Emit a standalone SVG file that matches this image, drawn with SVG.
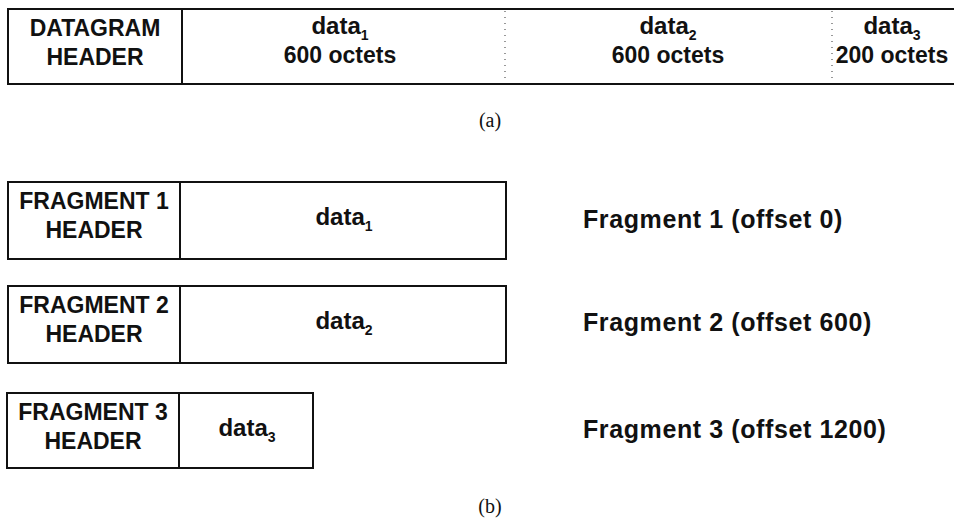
<svg xmlns="http://www.w3.org/2000/svg" width="954" height="518" viewBox="0 0 954 518">
  <style>
    .box { fill: #fff; stroke: #111; stroke-width: 2; }
    .rule { stroke: #111; stroke-width: 2; fill: none; }
    .dots { stroke: #555; stroke-width: 1.2; stroke-dasharray: 1 5; fill: none; }
    .t { font-family: "Liberation Sans", Arial, Helvetica, sans-serif; font-weight: bold; font-size: 23px; fill: #111; text-anchor: middle; }
    .d { font-size: 24px; }
    .lbl { font-family: "Liberation Sans", Arial, Helvetica, sans-serif; font-weight: bold; font-size: 25px; letter-spacing: 0.6px; fill: #111; }
    .sub { font-size: 14px; }
    .cap { font-family: "Liberation Serif", "Times New Roman", serif; font-size: 20px; fill: #111; text-anchor: middle; }
  </style>

  <!-- (a) the original datagram -->
  <g id="datagram">
    <path class="rule" d="M956 9 H8 V84 H956"/>
    <line class="rule" x1="182" y1="9" x2="182" y2="84"/>
    <line class="dots" x1="505" y1="11" x2="505" y2="83"/>
    <line class="dots" x1="832" y1="11" x2="832" y2="83"/>
    <text class="t" x="95" y="36">DATAGRAM</text>
    <text class="t" x="95" y="65">HEADER</text>
    <text class="t d" x="340" y="34">data<tspan class="sub" dy="6">1</tspan></text>
    <text class="t" x="340" y="63">600 octets</text>
    <text class="t d" x="668" y="34">data<tspan class="sub" dy="6">2</tspan></text>
    <text class="t" x="668" y="63">600 octets</text>
    <text class="t d" x="892" y="34">data<tspan class="sub" dy="6">3</tspan></text>
    <text class="t" x="892" y="63">200 octets</text>
  </g>
  <text class="cap" x="490" y="127">(a)</text>

  <!-- (b) the three fragments -->
  <g id="fragment1">
    <rect class="box" x="8" y="182" width="498" height="77"/>
    <line class="rule" x1="180" y1="182" x2="180" y2="259"/>
    <text class="t" x="94" y="209">FRAGMENT 1</text>
    <text class="t" x="94" y="238">HEADER</text>
    <text class="t d" x="344" y="225">data<tspan class="sub" dy="6">1</tspan></text>
    <text class="lbl" x="583" y="228">Fragment 1 (offset 0)</text>
  </g>

  <g id="fragment2">
    <rect class="box" x="8" y="286" width="498" height="77"/>
    <line class="rule" x1="180" y1="286" x2="180" y2="363"/>
    <text class="t" x="94" y="313">FRAGMENT 2</text>
    <text class="t" x="94" y="342">HEADER</text>
    <text class="t d" x="344" y="329">data<tspan class="sub" dy="6">2</tspan></text>
    <text class="lbl" x="583" y="331">Fragment 2 (offset 600)</text>
  </g>

  <g id="fragment3">
    <rect class="box" x="7" y="393" width="306" height="75"/>
    <line class="rule" x1="179" y1="393" x2="179" y2="468"/>
    <text class="t" x="93" y="420">FRAGMENT 3</text>
    <text class="t" x="93" y="449">HEADER</text>
    <text class="t d" x="247" y="436">data<tspan class="sub" dy="6">3</tspan></text>
    <text class="lbl" x="583" y="438">Fragment 3 (offset 1200)</text>
  </g>
  <text class="cap" x="490" y="513">(b)</text>
</svg>
